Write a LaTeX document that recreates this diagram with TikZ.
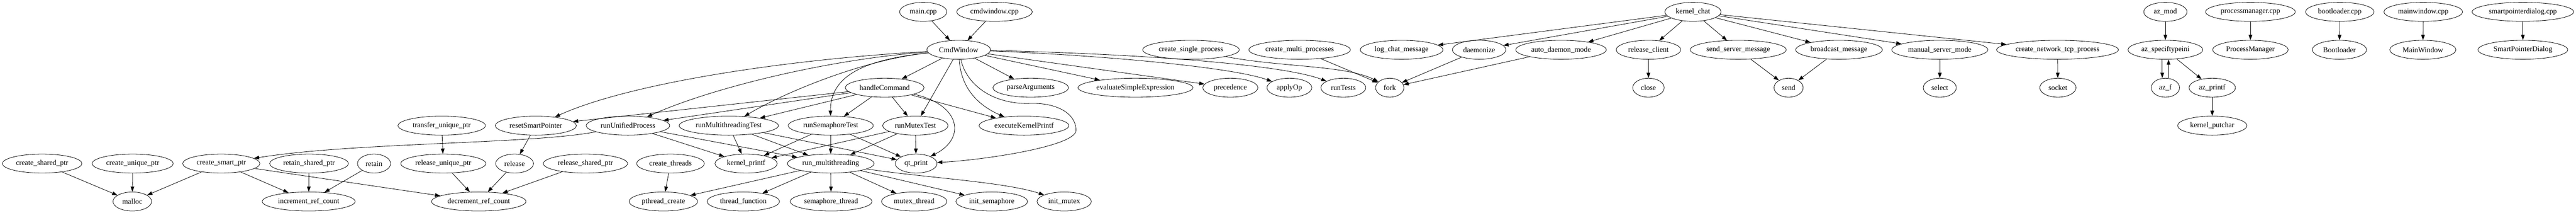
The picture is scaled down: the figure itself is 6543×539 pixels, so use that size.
\documentclass[tikz,border=0pt]{standalone}
\usepackage{fontspec}
\setmainfont{Liberation Serif}
\usetikzlibrary{shapes.geometric,arrows.meta}
\tikzset{
  gn/.style={draw, ellipse, line width=0.8pt, inner sep=0pt, minimum height=36pt, font=\fontsize{14pt}{16pt}\selectfont},
  e/.style={-{Triangle[length=10pt,width=7pt]}, line width=0.8pt},
}
\newcommand{\gv}[5]{\node[gn,minimum width=#4pt] (#1) at (#2,#3) {#5};}
\begin{document}
\begin{tikzpicture}[x=0.75pt,y=-0.75pt]
\useasboundingbox (0,0) rectangle (6543,539);
% row 0
\gv{mainc}{2345}{30}{90}{main.cpp}
\gv{cmdc}{2526}{30}{144}{cmdwindow.cpp}
\gv{kchat}{4300}{30}{107}{kernel\_chat}
\gv{azmod}{5500}{30}{82.5}{az\_mod}
\gv{pmc}{5716}{30}{171}{processmanager.cpp}
\gv{blc}{5943}{30}{130.5}{bootloader.cpp}
\gv{mwc}{6155}{30}{150}{mainwindow.cpp}
\gv{spdc}{6408}{30}{193.5}{smartpointerdialog.cpp}
% row 1
\gv{cmd}{2435}{126}{121.5}{CmdWindow}
\gv{csp}{3025}{126}{184}{create\_single\_process}
\gv{cmp}{3301}{126}{193.5}{create\_multi\_processes}
\gv{lcm}{3560}{126}{157.5}{log\_chat\_message}
\gv{dmz}{3757}{126}{102}{daemonize}
\gv{adm}{3965}{126}{172.5}{auto\_daemon\_mode}
\gv{rcl}{4187}{126}{123}{release\_client}
\gv{ssm}{4415}{126}{183}{send\_server\_message}
\gv{bcm}{4671}{126}{165}{broadcast\_message}
\gv{msm}{4927}{126}{183}{manual\_server\_mode}
\gv{cntp}{5226}{126}{232}{create\_network\_tcp\_process}
\gv{azs}{5500}{126}{142.5}{az\_speciftypeini}
\gv{PM}{5716}{126}{144}{ProcessManager}
\gv{BL}{5942}{126}{103.5}{Bootloader}
\gv{MW}{6154}{126}{126}{MainWindow}
\gv{SPD}{6408}{126}{171}{SmartPointerDialog}
% row 2
\gv{hc}{2247}{222}{150}{handleCommand}
\gv{pa}{2618}{222}{144}{parseArguments}
\gv{ese}{2884}{222}{219}{evaluateSimpleExpression}
\gv{prec}{3125}{222}{105}{precedence}
\gv{aop}{3275}{222}{85.5}{applyOp}
\gv{rt}{3412}{222}{85.5}{runTests}
\gv{fork}{3530}{222}{54}{fork}
\gv{close}{4187}{222}{60}{close}
\gv{send}{4543}{222}{55.5}{send}
\gv{select}{4927}{222}{63}{select}
\gv{socket}{5227}{222}{69}{socket}
\gv{azf}{5500}{222}{54}{az\_f}
\gv{azp}{5619}{222}{88.5}{az\_printf}
% row 3
\gv{tup}{1122}{318}{166.5}{transfer\_unique\_ptr}
\gv{rsp}{1361}{318}{154.5}{resetSmartPointer}
\gv{rup}{1595}{318}{159}{runUnifiedProcess}
\gv{rmt}{1851}{318}{189}{runMultithreadingTest}
\gv{rst}{2110}{318}{162}{runSemaphoreTest}
\gv{rmx}{2325}{318}{124.5}{runMutexTest}
\gv{ekp}{2601}{318}{171}{executeKernelPrintf}
\gv{kpc}{5619}{318}{132}{kernel\_putchar}
% row 4
\gv{cshp}{107}{414}{151.5}{create\_shared\_ptr}
\gv{cup}{337}{414}{154.5}{create\_unique\_ptr}
\gv{csmp}{562}{414}{147}{create\_smart\_ptr}
\gv{rshp}{785}{414}{150}{retain\_shared\_ptr}
\gv{retain}{950}{414}{63}{retain}
\gv{relu}{1126}{414}{162}{release\_unique\_ptr}
\gv{rel}{1307}{414}{72}{release}
\gv{rels}{1487}{414}{160.5}{release\_shared\_ptr}
\gv{cth}{1703}{414}{129}{create\_threads}
\gv{kpf}{1895}{414}{118.5}{kernel\_printf}
\gv{rmth}{2110}{414}{165}{run\_multithreading}
\gv{qt}{2327}{414}{79.5}{qt\_print}
% row 5
\gv{malloc}{336}{510}{73.5}{malloc}
\gv{irc}{784}{510}{177}{increment\_ref\_count}
\gv{drc}{1216}{510}{180}{decrement\_ref\_count}
\gv{pc}{1685}{510}{130.5}{pthread\_create}
\gv{tf}{1888}{510}{138}{thread\_function}
\gv{st}{2111}{510}{156}{semaphore\_thread}
\gv{mt}{2322}{510}{124.5}{mutex\_thread}
\gv{isem}{2519}{510}{136.5}{init\_semaphore}
\gv{imx}{2703}{510}{103.5}{init\_mutex}
% waypoints
\coordinate (w1) at (2610,262);
\coordinate (w2) at (2733,330);
% edges: CmdWindow
\draw[e] (mainc) -- (cmd);
\draw[e] (cmdc) -- (cmd);
\draw[e] (cmd) .. controls (2000,150) and (1600,210) .. (rsp);
\draw[e] (cmd) .. controls (2100,150) and (1800,225) .. (rup);
\draw[e] (cmd) .. controls (2200,150) and (2000,230) .. (rmt);
\draw[e] (cmd) .. controls (2200,150) and (2108,190) .. (rst);
\draw[e] (cmd) -- (hc);
\draw[e] (cmd) -- (rmx);
\draw[e] (cmd) .. controls (2440,210) and (2470,260) .. (ekp);
\draw[e] (cmd) .. controls (2455,215) and (2520,262) .. (w1) .. controls (2680,258) and (2733,285) .. (w2) .. controls (2733,370) and (2500,405) .. (qt);
\draw[e] (cmd) -- (pa);
\draw[e] (cmd) -- (ese);
\draw[e] (cmd) -- (prec);
\draw[e] (cmd) .. controls (2800,140) and (3130,170) .. (aop);
\draw[e] (cmd) .. controls (2850,135) and (3250,160) .. (rt);
% handleCommand
\draw[e] (hc) -- (rsp);
\draw[e] (hc) -- (rup);
\draw[e] (hc) -- (rmt);
\draw[e] (hc) -- (rst);
\draw[e] (hc) -- (rmx);
\draw[e] (hc) -- (ekp);
\draw[e] (hc) .. controls (2440,265) and (2455,350) .. (qt);
% row 3 sources
\draw[e] (rup) .. controls (1350,365) and (900,360) .. (csmp);
\draw[e] (rup) -- (kpf);
\draw[e] (rup) -- (rmth);
\draw[e] (rmt) -- (kpf);
\draw[e] (rmt) -- (rmth);
\draw[e] (rmt) -- (qt);
\draw[e] (rst) -- (kpf);
\draw[e] (rst) -- (rmth);
\draw[e] (rst) -- (qt);
\draw[e] (rmx) -- (kpf);
\draw[e] (rmx) -- (rmth);
\draw[e] (rmx) -- (qt);
\draw[e] (rsp) -- (rel);
\draw[e] (tup) -- (relu);
% row 4 sources
\draw[e] (cshp) -- (malloc);
\draw[e] (cup) -- (malloc);
\draw[e] (csmp) -- (malloc);
\draw[e] (csmp) -- (irc);
\draw[e] (csmp) -- (drc);
\draw[e] (rshp) -- (irc);
\draw[e] (retain) -- (irc);
\draw[e] (relu) -- (drc);
\draw[e] (rel) -- (drc);
\draw[e] (rels) -- (drc);
\draw[e] (cth) -- (pc);
\draw[e] (rmth) -- (pc);
\draw[e] (rmth) -- (tf);
\draw[e] (rmth) -- (st);
\draw[e] (rmth) -- (mt);
\draw[e] (rmth) -- (isem);
\draw[e] (rmth) .. controls (2350,450) and (2550,460) .. (imx);
% fork
\draw[e] (csp) .. controls (3250,170) and (3420,165) .. (fork);
\draw[e] (cmp) -- (fork);
\draw[e] (dmz) -- (fork);
\draw[e] (adm) -- (fork);
% kernel_chat
\draw[e] (kchat) -- (lcm);
\draw[e] (kchat) -- (dmz);
\draw[e] (kchat) -- (adm);
\draw[e] (kchat) -- (rcl);
\draw[e] (kchat) -- (ssm);
\draw[e] (kchat) -- (bcm);
\draw[e] (kchat) -- (msm);
\draw[e] (kchat) -- (cntp);
\draw[e] (rcl) -- (close);
\draw[e] (ssm) -- (send);
\draw[e] (bcm) -- (send);
\draw[e] (msm) -- (select);
\draw[e] (cntp) -- (socket);
% az
\draw[e] (azmod) -- (azs);
\draw[e] ([xshift=-6pt]azs.south) -- ([xshift=-6pt]azf.north);
\draw[e] ([xshift=6pt]azf.north) -- ([xshift=6pt]azs.south);
\draw[e] (azs) -- (azp);
\draw[e] (azp) -- (kpc);
% cpp files
\draw[e] (pmc) -- (PM);
\draw[e] (blc) -- (BL);
\draw[e] (mwc) -- (MW);
\draw[e] (spdc) -- (SPD);
\end{tikzpicture}
\end{document}
